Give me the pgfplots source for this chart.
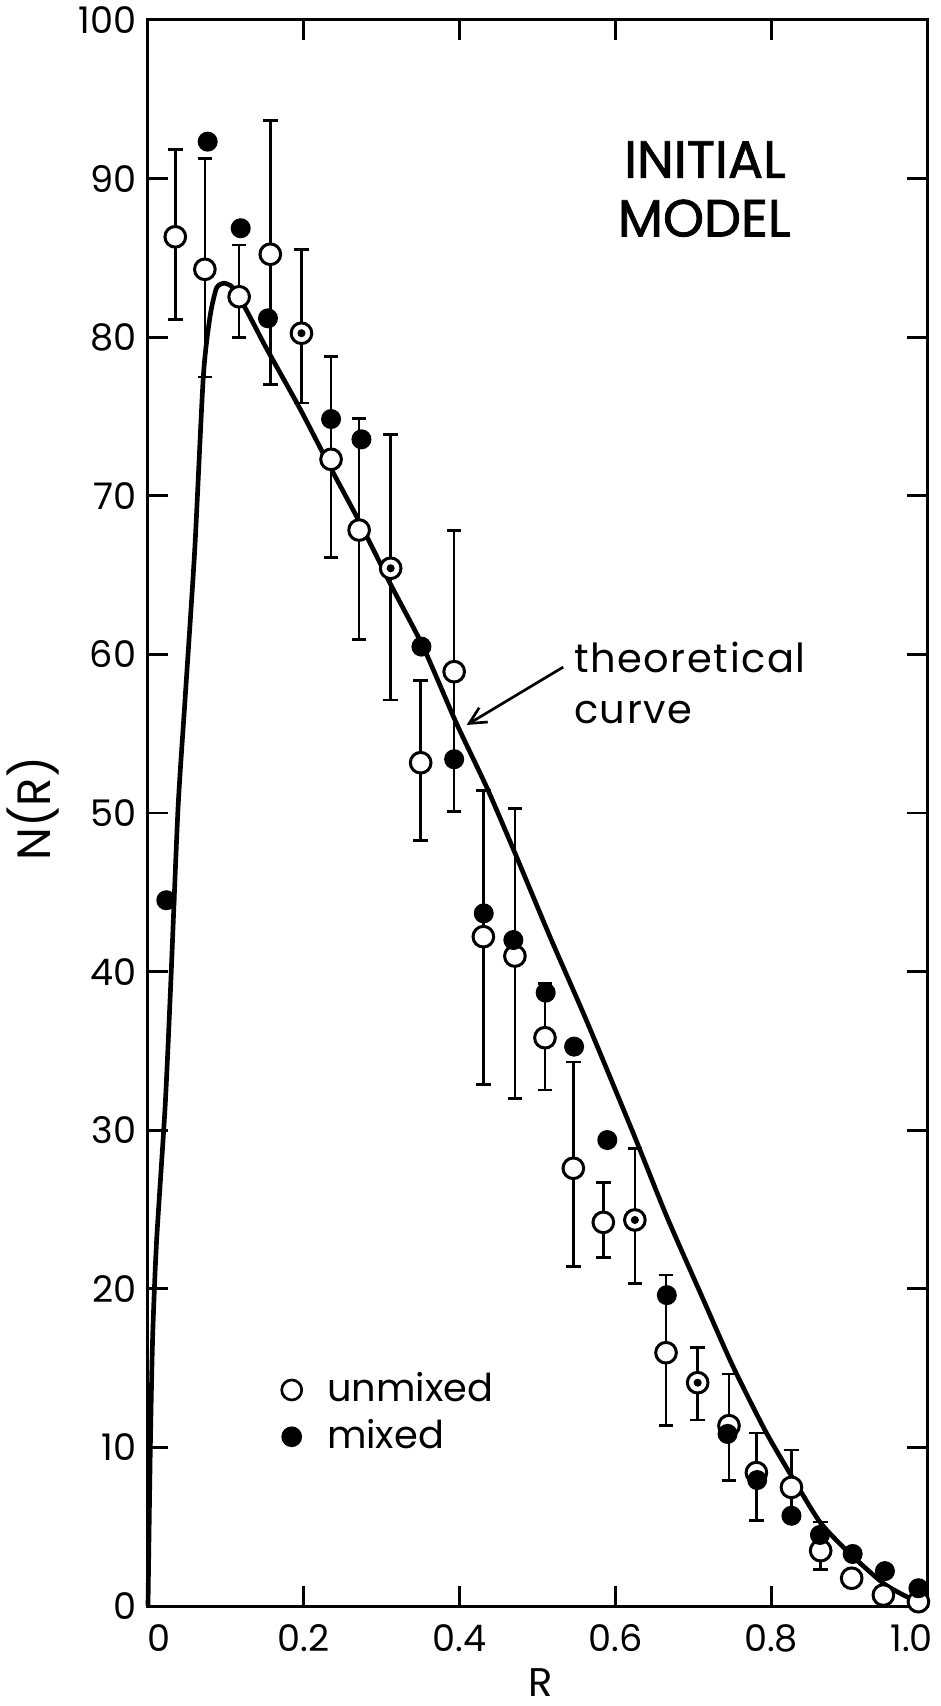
\documentclass[border=0pt]{standalone}
\usepackage{fontspec}
\setmainfont{Poppins}
\usepackage{pgfplots}
\usepackage{pgfplotstable}
\pgfplotsset{compat=1.18}
\usetikzlibrary{arrows.meta}

% unmixed points with (asymmetric) error bars
\pgfplotstableread{
x      y      ep    em
0.035  86.33  5.5   5.2
0.073  84.28  7.0   6.8
0.117  82.55  3.26  2.55
0.157  85.23  8.45  8.2
0.197  80.25  5.3   4.4
0.235  72.30  6.5   6.2
0.271  67.84  7.05  6.9
0.3115 65.43  8.45  8.3
0.350  53.17  5.2   4.9
0.393  58.91  8.9   8.8
0.4305 42.20  9.2   9.3
0.471  40.98  9.3   9.0
0.5096 35.83  3.4   3.3
0.546  27.60  6.7   6.2
0.5845 24.19  2.5   2.2
0.625  24.34  4.5   4.0
0.665  15.97  4.9   4.6
0.7056 14.08  2.2   2.35
0.7458 11.37  3.25  3.45
0.781  8.41   2.5   3.0
0.826  7.48   2.35  2.0
0.8635 3.49   1.8   1.2
}\unmixederr

\pgfplotstableread{
x      y
0.035  86.33
0.073  84.28
0.117  82.55
0.157  85.23
0.197  80.25
0.235  72.30
0.271  67.84
0.3115 65.43
0.350  53.17
0.393  58.91
0.4305 42.20
0.471  40.98
0.5096 35.83
0.546  27.60
0.5845 24.19
0.625  24.34
0.665  15.97
0.7056 14.08
0.7458 11.37
0.781  8.41
0.826  7.48
0.8635 3.49
0.9033 1.75
0.944  0.69
0.989  0.27
}\unmixed

\pgfplotstableread{
x      y
0.0235 44.50
0.0766 92.33
0.119  86.87
0.154  81.19
0.235  74.84
0.274  73.56
0.351  60.49
0.393  53.39
0.431  43.67
0.469  41.99
0.5105 38.67
0.547  35.27
0.5896 29.38
0.666  19.60
0.744  10.85
0.782  7.94
0.826  5.69
0.8626 4.48
0.9046 3.28
0.946  2.20
0.989  1.12
}\mixed

% small dots seen inside some open circles
\pgfplotstableread{
x      y
0.197  80.25
0.3115 65.43
0.625  24.34
0.7056 14.08
}\dots

\pgfplotstableread{
x      y
0.000  0.0
0.003  10.0
0.006  17.0
0.011  23.0
0.022  31.5
0.029  39.0
0.0385 50.25
0.0475 57.1
0.060  66.6
0.071  77.5
0.0796 81.3
0.088  83.1
0.0976 83.4
0.1074 83.2
0.118  82.45
0.135  80.9
0.152  79.3
0.195  75.5
0.234  71.8
0.272  68.3
0.313  64.27
0.353  60.5
0.396  55.65
0.435  51.6
0.470  47.6
0.516  42.2
0.563  36.9
0.623  29.8
0.666  24.55
0.713  19.3
0.751  15.1
0.794  10.9
0.837  7.3
0.864  5.2
0.901  3.3
0.944  1.43
0.978  0.49
1.000  0.15
}\curve

\begin{document}
\begin{tikzpicture}
\begin{axis}[
  scale only axis,
  width=233.7pt, height=475.8pt,
  xmin=0, xmax=1, ymin=0, ymax=100,
  clip=false,
  axis line style={line width=0.9pt},
  tick align=inside, tick pos=both,
  major tick length=6pt,
  every tick/.style={line width=0.8pt, black},
  xtick={0,0.2,0.4,0.6,0.8,1},
  xticklabels={\hspace*{6.6pt}0,0.2,0.4,0.6,0.8,1.0\hspace*{9.2pt}},
  ytick={0,10,20,30,40,50,60,70,80,90,100},
  /pgf/number format/assume math mode=true,
  tick label style={font=\fontsize{11}{13}\selectfont},
  xticklabel style={yshift=-2pt},
  xlabel={R},
  ylabel={N(R)},
  xlabel style={font=\fontsize{12}{14}\selectfont, inner sep=0pt, at={(axis description cs:0.504,0)}, anchor=center, yshift=-23pt},
  ylabel style={font=\fontsize{14}{16}\selectfont, inner sep=0pt, at={(axis description cs:-0.1476,0.503)}, anchor=center},
]
\coordinate (bl) at (rel axis cs:0,0);
\coordinate (tr) at (rel axis cs:1,1);

\addplot[line width=1.4pt, smooth, tension=0.4, mark=none] table[x=x,y=y] {\curve};

\addplot[draw=none, mark=none,
  error bars/.cd, y dir=both, y explicit,
  error bar style={draw=black, line width=0.8pt},
  error mark options={draw=black, rotate=90, mark size=2.2pt, line width=0.8pt}]
  table[x=x, y=y, y error plus=ep, y error minus=em] {\unmixederr};

\addplot[only marks, mark=*, mark size=3.1pt, mark options={fill=white, draw=black, line width=0.9pt}]
  table[x=x,y=y] {\unmixed};

\addplot[only marks, mark=*, mark size=2.8pt, mark options={fill=black, draw=black, line width=0.4pt}]
  table[x=x,y=y] {\mixed};

\addplot[only marks, mark=*, mark size=1.0pt, mark options={fill=black, draw=none}]
  table[x=x,y=y] {\dots};

% legend markers
\addplot[only marks, mark=*, mark size=3.0pt, mark options={fill=white, draw=black, line width=0.8pt}]
  coordinates {(0.1845,13.62)};
\addplot[only marks, mark=*, mark size=2.9pt, mark options={fill=black, draw=black, line width=0.4pt}]
  coordinates {(0.1845,10.67)};

\node[anchor=base west, inner sep=0pt, font=\fontsize{11.5}{14}\selectfont] at (axis cs:0.229,12.88) {unmixed};
\node[anchor=base west, inner sep=0pt, font=\fontsize{11.5}{14}\selectfont] at (axis cs:0.229,9.9) {mixed};

\node[anchor=center, inner sep=0pt, font=\fontsize{15.7}{18}\selectfont\addfontfeature{FakeBold=1.5}] at (axis cs:0.715,91.2) {INITIAL};
\node[anchor=center, inner sep=0pt, font=\fontsize{15.7}{18}\selectfont\addfontfeature{FakeBold=1.5}] at (axis cs:0.714,87.5) {MODEL};

\node[anchor=base west, inner sep=0pt, font=\fontsize{12}{14}\selectfont\addfontfeature{LetterSpace=4}] at (axis cs:0.546,58.83) {theoretical};
\node[anchor=base west, inner sep=0pt, font=\fontsize{12}{14}\selectfont\addfontfeature{LetterSpace=4}] at (axis cs:0.546,55.67) {curve};
\draw[line width=0.8pt, -{Straight Barb[length=5pt,width=5pt]}] (axis cs:0.533,59.2) -- (axis cs:0.409,55.55);
\end{axis}
\pgfresetboundingbox
\path ([shift={(-44.4pt,-30pt)}]bl) rectangle ([shift={(4.2pt,6pt)}]tr);
\end{tikzpicture}
\end{document}
